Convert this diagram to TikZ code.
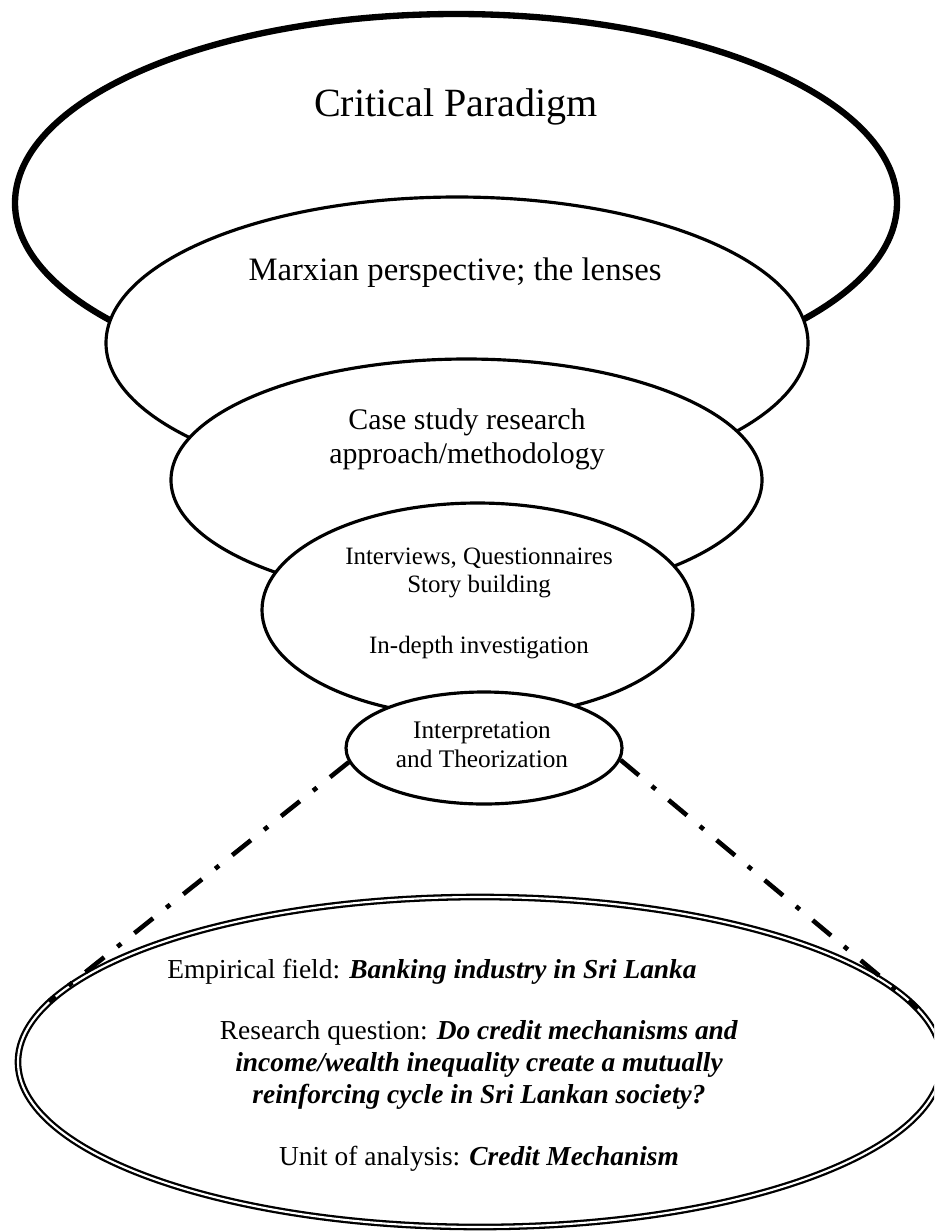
\documentclass[tikz,border=0pt]{standalone}
\usepackage{fontspec}
\setmainfont{Liberation Serif}
\usepackage{tikz}
\usetikzlibrary{shapes.geometric}

\tikzset{
	ring/.style={ellipse, draw, fill=white, line width=0.9pt, inner sep=0pt},
	dashdotline/.style={line width=1.3pt, dash pattern=on 6.8pt off 4.8pt on 1.4pt off 4.8pt}
}
\newcommand{\fs}[2]{\fontsize{#1}{#2}\selectfont}
\newcommand{\bi}[1]{\textbf{\textit{#1}}}

\begin{document}
\begin{tikzpicture}
			\clip (0,0) rectangle (9.34,-12.32);
			% funnel of ellipses
			\node[ring, line width=1.8pt, minimum width=8.82cm, minimum height=3.78cm] (paradigm) at (4.56,-2.03) {};
			\node[ring, minimum width=7.02cm, minimum height=2.92cm] (lenses) at (4.57,-3.43) {};
			\node[ring, minimum width=5.91cm, minimum height=2.42cm] (approach) at (4.665,-4.80) {};
			\node[ring, minimum width=4.31cm, minimum height=2.14cm] (methods) at (4.775,-6.10) {};
			\node[ring, minimum width=2.76cm, minimum height=1.12cm] (theory) at (4.84,-7.48) {};
			% empirical field
			\node[ellipse, draw, double, line width=0.65pt, double distance=0.6pt, inner sep=0pt,
				minimum width=9.24cm, minimum height=3.30cm] (field) at (4.80,-10.62) {};
			\draw[dashdotline] (theory.186) -- (field.172.6);
			\draw[dashdotline] (theory.355) -- (field.7);
			% labels (base = last line)
			\node[anchor=base, font=\fs{11.4}{13}] (cp) at (4.56,-1.16) {Critical Paradigm};
			\node[anchor=base, font=\fs{9.3}{11}] (mp) at (4.55,-2.80) {Marxian perspective; the lenses};
			\node[anchor=base, align=center, font=\fs{8.5}{9.4}] (cs) at (4.67,-4.63) {Case study research\\approach/methodology};
			\node[anchor=base, align=center, font=\fs{7.1}{8.0}] (iv) at (4.79,-6.53) {Interviews, Questionnaires\\Story building\\[9.1pt]In-depth investigation};
			\node[anchor=base, align=center, font=\fs{7.2}{8.25}] (it) at (4.82,-7.67) {Interpretation\\and Theorization};
			\node[anchor=base, font=\fs{7.8}{9}] (ef) at (4.32,-9.78) {Empirical field: \bi{Banking industry in Sri Lanka}};
			\node[anchor=base, align=center, font=\fs{7.8}{9}] (rq) at (4.79,-11.03) {Research question: \bi{Do credit mechanisms and}\\\bi{income/wealth inequality create a mutually}\\\bi{reinforcing cycle in Sri Lankan society?}};
			\node[anchor=base, font=\fs{7.8}{9}] (ua) at (4.79,-11.65) {Unit of analysis: \bi{Credit Mechanism}};
		\end{tikzpicture}
\end{document}
